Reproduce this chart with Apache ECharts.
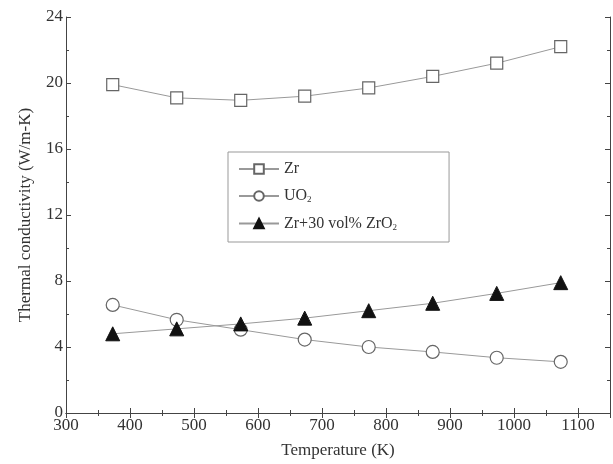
<!DOCTYPE html>
<html>
<head>
<meta charset="utf-8">
<script src="https://cdn.jsdelivr.net/npm/echarts@6/dist/echarts.min.js"></script>
<style>
html, body { margin: 0; padding: 0; background: #fff; }
#main { width: 613px; height: 464px; }
</style>
</head>
<body>
<div id="main"></div>
<script>
// 数据
var temps = [373, 473, 573, 673, 773, 873, 973, 1073];
var zr = [19.9, 19.1, 18.95, 19.2, 19.7, 20.4, 21.2, 22.2];
var uo2 = [6.55, 5.65, 5.05, 4.45, 4.0, 3.7, 3.35, 3.1];
var zrZro2 = [4.8, 5.1, 5.4, 5.75, 6.2, 6.65, 7.25, 7.9];
var seriesNames = ['Zr', 'UO2', 'Zr+30 vol% ZrO2'];

function pairs(ys) {
    return temps.map(function (t, i) { return [t, ys[i]]; });
}

var chart = echarts.init(document.getElementById('main'));
var font = 'Liberation Serif';
var axisColor = '#444';
var textColor = '#333';

chart.setOption({
    animation: false,
    grid: { left: 66, right: 3, top: 17, bottom: 51 },
    legend: {
        orient: 'vertical',
        left: 228,
        top: 152,
        padding: [9, 52, 10, 10],
        itemGap: 11,
        itemWidth: 40,
        itemHeight: 12,
        borderColor: '#999',
        borderWidth: 1,
        data: seriesNames,
        textStyle: {
            fontFamily: font, fontSize: 16, color: textColor,
            rich: {
                sub: { fontFamily: font, fontSize: 9, color: textColor, verticalAlign: 'bottom', padding: [8, 0, 0, 0] }
            }
        },
        formatter: function (name) {
            return name.replace(/O2$/, 'O{sub|2}');
        }
    },
    xAxis: [{
        type: 'value', min: 300, max: 1150, interval: 100,
        name: 'Temperature (K)', nameLocation: 'middle', nameGap: 29,
        nameTextStyle: { fontFamily: font, fontSize: 17, color: textColor },
        axisLine: { lineStyle: { color: axisColor } },
        axisTick: { inside: true, length: 5, lineStyle: { color: axisColor } },
        minorTick: { show: true, splitNumber: 2, length: 3, lineStyle: { color: axisColor } },
        splitLine: { show: false },
        axisLabel: {
            fontFamily: font, fontSize: 17, color: textColor, margin: 4,
            formatter: function (v) { return v > 1100 ? '' : v; }
        }
    }, {
        type: 'value', min: 300, max: 1150, interval: 100, position: 'top',
        axisLine: { show: true, lineStyle: { color: axisColor } },
        axisTick: { inside: true, length: 5, lineStyle: { color: axisColor } },
        minorTick: { show: true, splitNumber: 2, length: 3, lineStyle: { color: axisColor } },
        splitLine: { show: false },
        axisLabel: { show: false }
    }],
    yAxis: [{
        type: 'value', min: 0, max: 24, interval: 4,
        name: 'Thermal conductivity (W/m-K)', nameLocation: 'middle', nameGap: 32,
        nameTextStyle: { fontFamily: font, fontSize: 17, color: textColor },
        axisLine: { show: true, lineStyle: { color: axisColor } },
        axisTick: { show: true, inside: true, length: 5, lineStyle: { color: axisColor } },
        minorTick: { show: true, splitNumber: 2, length: 3, lineStyle: { color: axisColor } },
        splitLine: { show: false },
        axisLabel: { fontFamily: font, fontSize: 17, color: textColor, margin: 3 }
    }, {
        type: 'value', min: 0, max: 24, interval: 4, position: 'right',
        axisLine: { show: true, lineStyle: { color: axisColor } },
        axisTick: { show: true, inside: true, length: 5, lineStyle: { color: axisColor } },
        minorTick: { show: true, splitNumber: 2, length: 3, lineStyle: { color: axisColor } },
        splitLine: { show: false },
        axisLabel: { show: false }
    }],
    series: [
        {
            name: seriesNames[0], type: 'line', data: pairs(zr),
            symbol: 'rect', symbolSize: 12,
            lineStyle: { color: '#999', width: 1 },
            itemStyle: { color: '#fff', borderColor: '#666', borderWidth: 1.2 }
        },
        {
            name: seriesNames[1], type: 'line', data: pairs(uo2),
            symbol: 'circle', symbolSize: 13,
            lineStyle: { color: '#999', width: 1 },
            itemStyle: { color: '#fff', borderColor: '#666', borderWidth: 1.2 }
        },
        {
            name: seriesNames[2], type: 'line', data: pairs(zrZro2),
            symbol: 'triangle', symbolSize: 14,
            lineStyle: { color: '#999', width: 1 },
            itemStyle: { color: '#111', borderColor: '#111', borderWidth: 1 }
        }
    ]
});
</script>
</body>
</html>
